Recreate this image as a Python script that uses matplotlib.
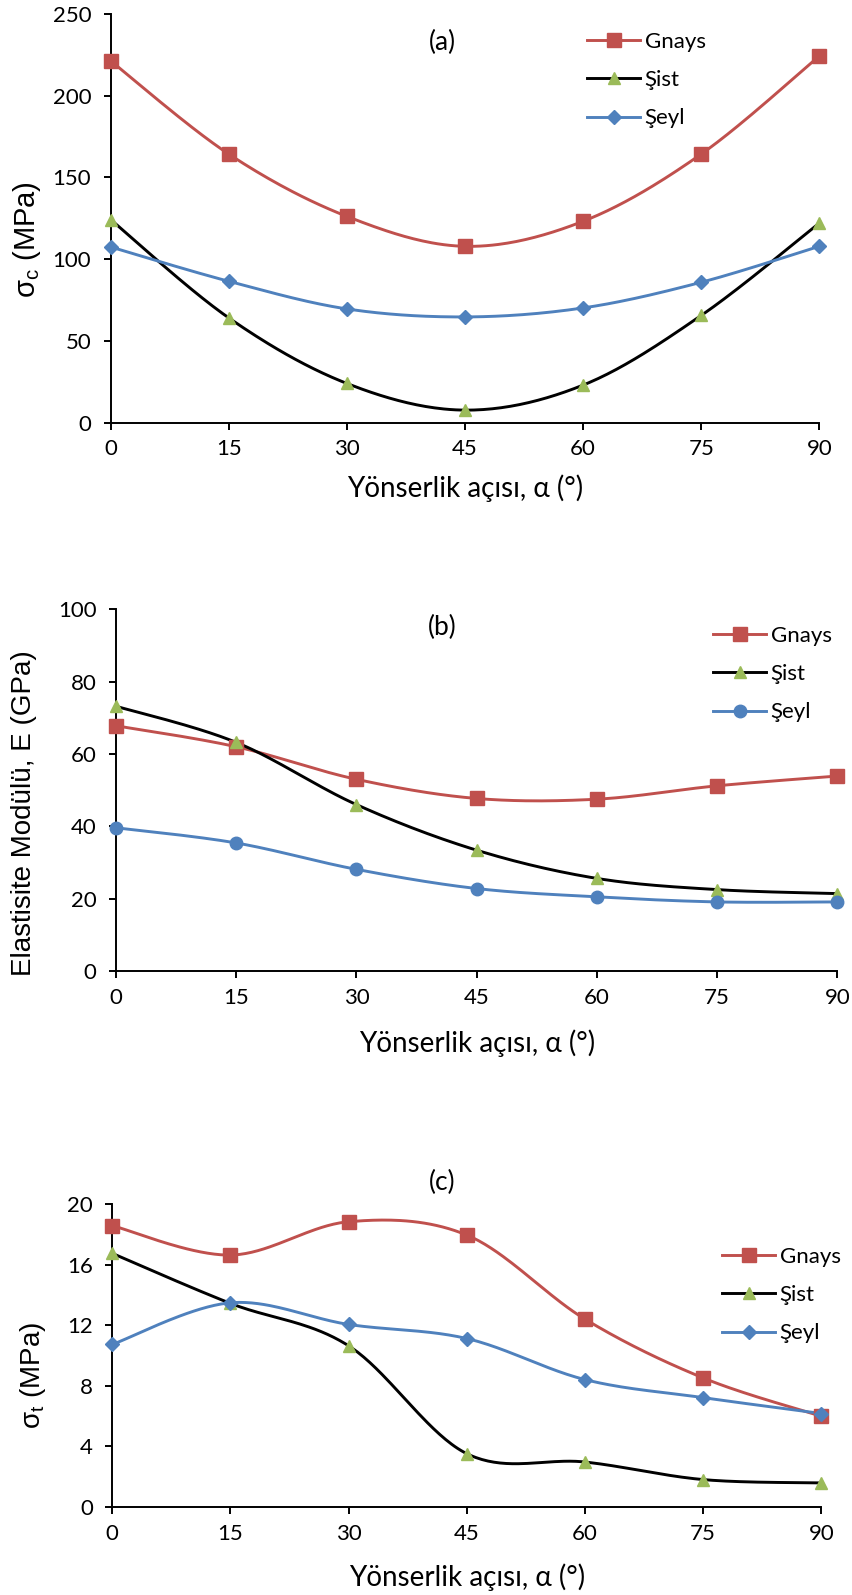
import numpy as np
import matplotlib.pyplot as plt

# orientation angle (degrees)
angles = [0, 15, 30, 45, 60, 75, 90]

# (a) uniaxial compressive strength, MPa
ucs_gnays = [221.3, 164.3, 126.2, 107.9, 123.2, 164.3, 224.3]
ucs_sist = [124.2, 64.1, 24.0, 7.7, 23.0, 65.6, 122.1]
ucs_seyl = [107.5, 86.5, 69.6, 64.7, 70.2, 85.9, 107.9]

# (b) elastic modulus, GPa
e_gnays = [67.8, 62.0, 53.0, 47.7, 47.5, 51.2, 53.9]
e_sist = [73.2, 63.2, 46.0, 33.4, 25.6, 22.5, 21.4]
e_seyl = [39.6, 35.4, 28.1, 22.8, 20.5, 19.1, 19.1]

# (c) tensile strength, MPa
ts_gnays = [18.57, 16.63, 18.83, 17.95, 12.40, 8.52, 5.99]
ts_sist = [16.74, 13.44, 10.64, 3.52, 2.97, 1.81, 1.59]
ts_seyl = [10.73, 13.48, 12.05, 11.12, 8.41, 7.22, 6.17]

names = ['Gnays', 'Şist', 'Şeyl']
RED = '#C0504D'
BLUE = '#4F81BD'
GREEN = '#9BBB59'
TICK_FONT = 'Lato'
YLAB_FONT = 'Liberation Sans'


def smooth(x, y, n=40):
    """Catmull-Rom style smoothing like a spreadsheet 'smoothed line'."""
    p = np.column_stack([x, y]).astype(float)
    ext = np.vstack([p[0], p, p[-1]])
    t = np.linspace(0, 1, n)[:, None]
    out = []
    for i in range(len(p) - 1):
        p0, p1, p2, p3 = ext[i], ext[i + 1], ext[i + 2], ext[i + 3]
        c1 = p1 + (p2 - p0) / 6
        c2 = p2 - (p3 - p1) / 6
        seg = ((1 - t) ** 3) * p1 + 3 * ((1 - t) ** 2) * t * c1 \
            + 3 * (1 - t) * t ** 2 * c2 + t ** 3 * p2
        out.append(seg if i == 0 else seg[1:])
    seg = np.vstack(out)
    return seg[:, 0], seg[:, 1]


W, H = 853, 1595
fig = plt.figure(figsize=(W / 100, H / 100), dpi=100)


def px_axes(left, right, top, bottom):
    return fig.add_axes([left / W, 1 - bottom / H, (right - left) / W, (bottom - top) / H])


def fx(x):
    return x / W


def fy(y):
    return 1 - y / H


def draw_panel(ax, series, markers, msizes, ymax, ystep, ylabel, ylab_xy, ylab_size,
               tag, tag_y, leg_xy, xlab_base):
    styles = [(RED, RED), ('black', GREEN), (BLUE, BLUE)]
    for vals, name, mk, ms, (lc, mc) in zip(series, names, markers, msizes, styles):
        sx, sy = smooth(angles, vals)
        ax.plot(sx, sy, color=lc, lw=2.1, zorder=2)
        ax.plot(angles, vals, ls='none', marker=mk, ms=ms, color=mc,
                markeredgecolor=mc, zorder=3, clip_on=False)
        # legend entry: line with marker on top
        ax.plot([], [], color=lc, lw=2.1, marker=mk, ms=ms,
                markerfacecolor=mc, markeredgecolor=mc, label=name)
    ax.set_xlim(0, 90)
    ax.set_ylim(0, ymax)
    ax.set_xticks(angles)
    ax.set_yticks(np.arange(0, ymax + ystep / 2, ystep))
    for s in ['top', 'right']:
        ax.spines[s].set_visible(False)
    for s in ['left', 'bottom']:
        ax.spines[s].set_linewidth(1.4)
    ax.tick_params(direction='out', length=5, width=1.4, labelsize=16)
    ax.tick_params(axis='x', pad=7)
    ax.tick_params(axis='y', pad=9)
    for lab in ax.get_xticklabels() + ax.get_yticklabels():
        lab.set_fontfamily(TICK_FONT)
    fig.text(fx(ylab_xy[0]), fy(ylab_xy[1]), ylabel, rotation=90, ha='center', va='center',
             fontsize=ylab_size, family=YLAB_FONT)
    pos = ax.get_position()
    fig.text(pos.x0 + pos.width / 2, fy(xlab_base), 'Yönserlik açısı, α (°)',
             ha='center', va='baseline', fontsize=20, family=TICK_FONT)
    fig.text(fx(442), fy(tag_y), tag, ha='center', va='center',
             fontsize=19, family=TICK_FONT)
    ax.legend(loc='upper left', bbox_to_anchor=(fx(leg_xy[0]), fy(leg_xy[1])),
              bbox_transform=fig.transFigure, frameon=False,
              prop={'family': TICK_FONT, 'size': 16},
              handlelength=2.4, handletextpad=0.2, labelspacing=0.82, borderpad=0,
              borderaxespad=0)


ax_a = px_axes(110.7, 819.3, 14, 422.7)
draw_panel(ax_a, [ucs_gnays, ucs_sist, ucs_seyl], ['s', '^', 'D'], [10, 9, 7],
           250, 50, 'σ$_{\\mathregular{c}}$ (MPa)', (27, 240), 21,
           '(a)', 42, (587, 32), 497)

ax_b = px_axes(116, 837.3, 609.3, 971)
draw_panel(ax_b, [e_gnays, e_sist, e_seyl], ['s', '^', 'o'], [10, 9, 9],
           100, 20, 'Elastisite Modülü, E (GPa)', (24, 813), 20,
           '(b)', 627, (713, 626), 1052)

ax_c = px_axes(112.3, 821.3, 1204, 1507)
draw_panel(ax_c, [ts_gnays, ts_sist, ts_seyl], ['s', '^', 'D'], [10, 9, 7],
           20, 4, 'σ$_{\\mathregular{t}}$ (MPa)', (33, 1375), 20,
           '(c)', 1182, (722, 1247), 1586)

fig.savefig('out.png', dpi=100)
